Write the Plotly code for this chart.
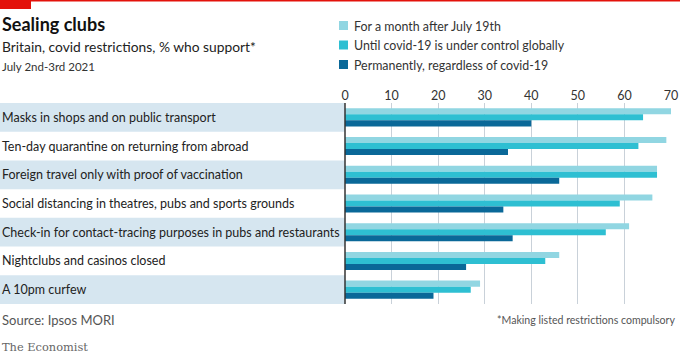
import plotly.graph_objects as go

categories = [
    "Masks in shops and on public transport",
    "Ten-day quarantine on returning from abroad",
    "Foreign travel only with proof of vaccination",
    "Social distancing in theatres, pubs and sports grounds",
    "Check-in for contact-tracing purposes in pubs and restaurants",
    "Nightclubs and casinos closed",
    "A 10pm curfew",
]
series_names = [
    "For a month after July 19th",
    "Until covid-19 is under control globally",
    "Permanently, regardless of covid-19",
]
month_after = [70, 69, 67, 66, 61, 46, 29]
until_control = [64, 63, 67, 59, 56, 43, 27]
permanently = [40, 35, 46, 34, 36, 26, 19]
x_ticks = [0, 10, 20, 30, 40, 50, 60, 70]

colors = ["#91d6e2", "#2ebfd2", "#0a6898"]
values = [month_after, until_control, permanently]

W, H = 680, 356
L, R, T, B = 345, 9, 103, 52
PW = W - L - R
PH = H - T - B

def xp(px):
    return (px - L) / PW

def yp(py):
    return (H - B - py) / PH

FONT = "Lato"
fig = go.Figure()
for name, vals, col in zip(series_names, values, colors):
    fig.add_trace(go.Bar(
        y=categories, x=vals, orientation="h", name=name,
        marker=dict(color=col, line=dict(width=0)),
        showlegend=False, hoverinfo="x+name",
    ))

shapes = []
annotations = []
for i, c in enumerate(categories):
    if i % 2 == 0:
        shapes.append(dict(type="rect", xref="paper", yref="y",
                           x0=xp(0), x1=0, y0=i - 0.5, y1=i + 0.5,
                           fillcolor="#d6e6f0", line=dict(width=0), layer="below"))
    annotations.append(dict(text=c, xref="paper", yref="y", x=xp(0), y=i,
                            xanchor="left", yanchor="middle", showarrow=False,
                            font=dict(family=FONT, size=12.5, color="#222")))
shapes.append(dict(type="line", xref="paper", yref="paper", x0=0, x1=0, y0=0, y1=1,
                   line=dict(color="#333", width=1.5)))
shapes.append(dict(type="rect", xref="paper", yref="paper", x0=xp(0), x1=xp(W),
                   y0=yp(1.5), y1=yp(0), fillcolor="#e3120b", line=dict(width=0)))
shapes.append(dict(type="rect", xref="paper", yref="paper", x0=xp(0), x1=xp(31),
                   y0=yp(9), y1=yp(0), fillcolor="#e3120b", line=dict(width=0)))
for k, (name, col) in enumerate(zip(series_names, colors)):
    cy = 25.5 + 19.5 * k
    shapes.append(dict(type="rect", xref="paper", yref="paper", x0=xp(339), x1=xp(348),
                       y0=yp(cy + 4.5), y1=yp(cy - 4.5), fillcolor=col, line=dict(width=0)))
    annotations.append(dict(text=name, xref="paper", yref="paper", x=xp(352), y=yp(cy + 0.5),
                            xanchor="left", yanchor="middle", showarrow=False,
                            font=dict(family=FONT, size=12.4, color="#333")))
annotations.append(dict(text="<b>Sealing clubs</b>", xref="paper", yref="paper", x=xp(0), y=yp(24),
                        xanchor="left", yanchor="middle", showarrow=False,
                        font=dict(family=FONT, size=18, color="#111")))
annotations.append(dict(text="Britain, covid restrictions, % who support*", xref="paper", yref="paper",
                        x=xp(0), y=yp(46), xanchor="left", yanchor="middle", showarrow=False,
                        font=dict(family=FONT, size=13.8, color="#222")))
annotations.append(dict(text="July 2nd-3rd 2021", xref="paper", yref="paper",
                        x=xp(0), y=yp(66), xanchor="left", yanchor="middle", showarrow=False,
                        font=dict(family=FONT, size=11.5, color="#333")))
annotations.append(dict(text="Source: Ipsos MORI", xref="paper", yref="paper",
                        x=xp(0), y=yp(320), xanchor="left", yanchor="middle", showarrow=False,
                        font=dict(family=FONT, size=13, color="#555")))
annotations.append(dict(text="*Making listed restrictions compulsory", xref="paper", yref="paper",
                        x=xp(677), y=yp(320), xanchor="right", yanchor="middle", showarrow=False,
                        font=dict(family=FONT, size=10.6, color="#555")))
annotations.append(dict(text="The Economist", xref="paper", yref="paper",
                        x=xp(0), y=yp(347), xanchor="left", yanchor="middle", showarrow=False,
                        font=dict(family="DejaVu Serif", size=11.4, color="#666")))

fig.update_layout(
    width=W, height=H, autosize=False,
    margin=dict(l=L, r=R, t=T, b=B, pad=0, autoexpand=False),
    paper_bgcolor="white", plot_bgcolor="white",
    barmode="group", bargap=0.37, bargroupgap=0,
    shapes=shapes, annotations=annotations,
    xaxis=dict(side="top", range=[0, 70], tickvals=x_ticks, ticktext=[str(t) for t in x_ticks],
               showgrid=True, gridcolor="#c9d1d9", gridwidth=1, zeroline=False, automargin=False,
               showline=False, ticks="", tickfont=dict(family=FONT, size=12.5, color="#333")),
    yaxis=dict(autorange="reversed", showticklabels=False, showgrid=False, zeroline=False,
               ticks="", showline=False, automargin=False),
    font=dict(family=FONT),
)
fig.write_html("out.html", config={"displayModeBar": False, "responsive": False},
               post_script="document.body.style.margin='0';document.body.style.padding='0';document.body.style.overflow='hidden';")
